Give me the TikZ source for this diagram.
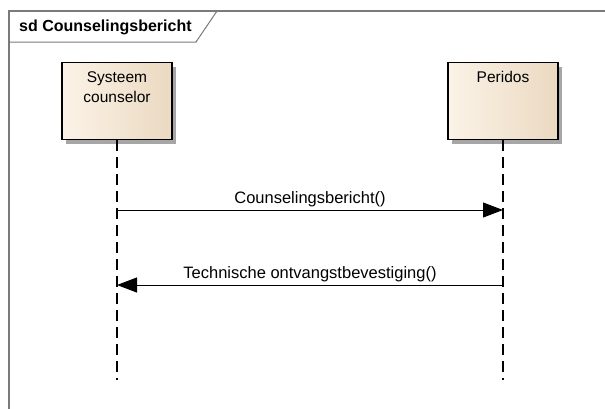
\documentclass[tikz,border=0pt]{standalone}
\usepackage{fontspec}
\setmainfont{Liberation Sans}
\usetikzlibrary{arrows.meta,shadows}

\definecolor{framegray}{HTML}{7A7A7A}
\definecolor{boxleft}{HTML}{FBF3E7}
\definecolor{boxright}{HTML}{EBD9C1}

\tikzset{
    lifehead/.style={draw=black, line width=1.2pt, minimum width=110pt, minimum height=77pt,
        left color=boxleft, right color=boxright, inner sep=0pt,
        drop shadow={shadow xshift=4pt, shadow yshift=-4pt, fill=black!35, opacity=1}},
    headtext/.style={anchor=north, align=center, inner sep=0pt, font=\fontsize{15.5}{20}\selectfont},
    lifeline/.style={line width=1.1pt, dash pattern=on 11pt off 6pt},
    msg/.style={line width=1pt, -{Triangle[length=20pt,width=15pt]}},
    msgtext/.style={above, inner sep=3pt, font=\fontsize{16.5}{18}\selectfont}
}

\begin{document}
\begin{tikzpicture}[x=1pt, y=-1pt]
    \useasboundingbox (0, 0) rectangle (605, 408);

    % Frame with title tab
    \draw[framegray, line width=1.5pt] (9, 420) -- (9, 11) -- (620, 11);
    \draw[framegray, line width=1pt] (9, 42) -- (196, 42) -- (217, 11);
    \node[anchor=west, inner sep=0pt, font=\fontsize{16}{18}\selectfont\bfseries] (title) at (19, 27) {sd Counselingsbericht};

    % Lifeline heads
    \node[lifehead, anchor=north] (sysbox) at (117, 62) {};
    \node[headtext] (systxt) at ([yshift=-9pt]sysbox.north) {Systeem\\counselor};
    \node[lifehead, anchor=north] (perbox) at (503, 62) {};
    \node[headtext] (pertxt) at ([yshift=-9pt]perbox.north) {Peridos};

    % Lifelines
    \coordinate (sysend) at (117, 380);
    \coordinate (perend) at (503, 380);
    \draw[lifeline] (sysbox.south) -- (sysend);
    \draw[lifeline] (perbox.south) -- (perend);

    % Messages
    \coordinate (m1s) at (117, 210);
    \coordinate (m1e) at (503, 210);
    \draw[msg] (m1s) -- node[msgtext] (m1lbl) {Counselingsbericht()} (m1e);

    \coordinate (m2s) at (503, 285);
    \coordinate (m2e) at (117, 285);
    \draw[msg] (m2s) -- node[msgtext] (m2lbl) {Technische ontvangstbevestiging()} (m2e);
\end{tikzpicture}
\end{document}
